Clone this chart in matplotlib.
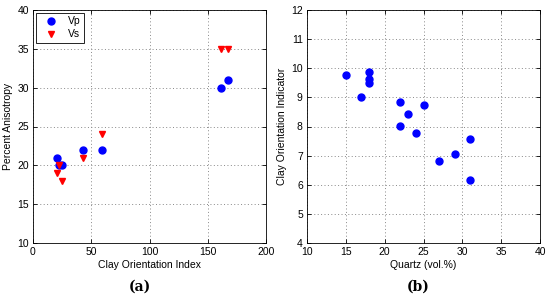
import matplotlib.pyplot as plt

plt.rcParams["font.family"] = ["Liberation Sans", "DejaVu Sans"]
plt.rcParams["font.size"] = 7.5

# panel (a)
coi_vp = [21, 22, 25, 43, 59, 161, 167]
aniso_vp = [21, 20, 20, 22, 22, 30, 31]
coi_vs = [22, 21, 25, 43, 59, 161, 167]
aniso_vs = [20, 19, 18, 21, 24, 35, 35]

# panel (b)
quartz = [15, 18, 18, 18, 17, 22, 25, 23, 22, 24, 31, 29, 27, 31]
coi_ind = [9.78, 9.88, 9.62, 9.5, 9.03, 8.85, 8.75, 8.43, 8.02, 7.78, 7.57, 7.06, 6.83, 6.16]

fig = plt.figure(figsize=(5.5, 2.99), dpi=100)
ax1 = fig.add_axes([33 / 550, 1 - 243 / 299, 233 / 550, 233 / 299])
ax2 = fig.add_axes([307 / 550, 1 - 243 / 299, 233 / 550, 233 / 299])

ax1.plot(coi_vp, aniso_vp, "o", color="blue", markersize=5, label="Vp")
ax1.plot(coi_vs, aniso_vs, "v", color="red", markersize=5, label="Vs")
ax1.set_xlim(0, 200)
ax1.set_ylim(10, 40)
ax1.set_xticks(range(0, 201, 50))
ax1.set_yticks(range(10, 41, 5))
ax1.set_xlabel("Clay Orientation Index", labelpad=2)
ax1.set_ylabel("Percent Anisotropy", labelpad=3)
leg = ax1.legend(loc="upper left", fancybox=False, edgecolor="black",
                 borderaxespad=0.3, handletextpad=0.6, borderpad=0.3,
                 labelspacing=0.3, handlelength=2.2, framealpha=1)
leg.get_frame().set_linewidth(0.6)

ax2.plot(quartz, coi_ind, "o", color="blue", markersize=5)
ax2.set_xlim(10, 40)
ax2.set_ylim(4, 12)
ax2.set_xticks(range(10, 41, 5))
ax2.set_yticks(range(4, 13, 1))
ax2.set_xlabel("Quartz (vol.%)", labelpad=2)
ax2.set_ylabel("Clay Orientation Indicator", labelpad=3)

for ax in (ax1, ax2):
    ax.grid(True, linestyle=(0, (1, 2.5)), color="#888888", linewidth=0.7)
    ax.tick_params(direction="in", length=3, width=0.6, top=True, right=True)
    ax.tick_params(axis="x", pad=3)
    ax.tick_params(axis="y", pad=3)
    for s in ax.spines.values():
        s.set_linewidth(0.6)

fig.text(0.255, 0.04, "(a)", ha="center", va="center", fontsize=10,
         fontweight="bold", family="DejaVu Serif")
fig.text(0.76, 0.04, "(b)", ha="center", va="center", fontsize=10,
         fontweight="bold", family="DejaVu Serif")

fig.savefig("out.png", dpi=100)
